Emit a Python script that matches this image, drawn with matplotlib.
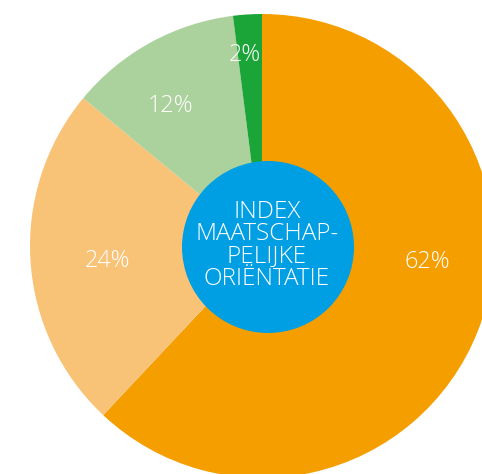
import matplotlib
matplotlib.use("Agg")
import matplotlib.pyplot as plt
from matplotlib.patches import Circle

# Share of each orientation category (percent), clockwise from 12 o'clock
categories = ["Categorie A", "Categorie B", "Categorie C", "Categorie D"]
shares = [62, 24, 12, 2]
colors = ["#F59E00", "#F8C377", "#ABD19C", "#1BA539"]

center_lines = ["INDEX", "MAATSCHAP-", "PELIJKE", "ORIËNTATIE"]

W, H = 482, 474
fig = plt.figure(figsize=(W / 100, H / 100), dpi=100)
ax = fig.add_axes([0, 0, 1, 1])

cx, cy, R = 262, H - 246, 232
ax.pie(shares, colors=colors, startangle=90, counterclock=False,
       center=(cx, cy), radius=R, wedgeprops=dict(linewidth=0))

# Blue hub with the title
ax.add_patch(Circle((268, H - 247), 86, facecolor="#009FE3", edgecolor="none", zorder=3))

font = dict(family=["Open Sans", "DejaVu Sans"], weight="light", color="white")

# Percentage labels (baseline positions)
label_pos = [(427, H - 268), (107, H - 267), (171, H - 112), (245, H - 61)]
for v, (x, y) in zip(shares, label_pos):
    ax.text(x, y, f"{v}%", ha="center", va="baseline", fontsize=16.8, zorder=4, **font)

baselines = [217.5, 240, 262.5, 285]
for line, b in zip(center_lines, baselines):
    ax.text(267, H - b, line, ha="center", va="baseline", fontsize=17.5, zorder=4, **font)

ax.set_xlim(0, W)
ax.set_ylim(0, H)
ax.set_aspect("auto")
ax.axis("off")

fig.savefig("out.png", dpi=100, facecolor="white")
